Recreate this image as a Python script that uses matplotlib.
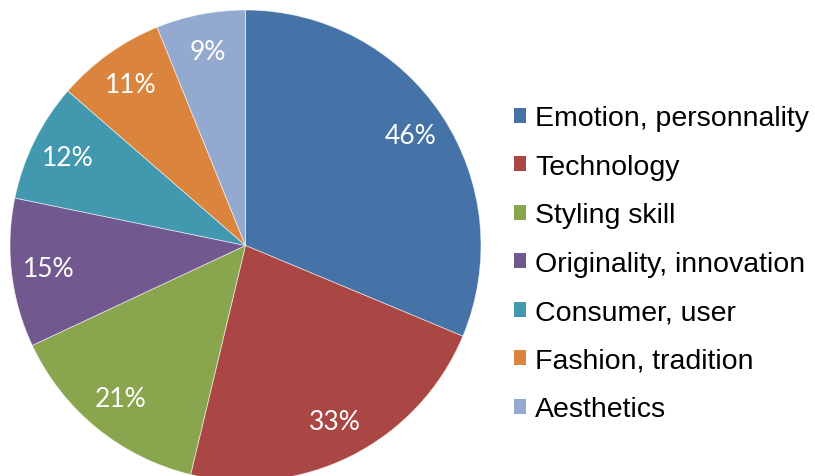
import matplotlib
matplotlib.use("Agg")
import matplotlib.pyplot as plt
from matplotlib.patches import Patch

categories = ["Emotion, personnality", "Technology", "Styling skill",
              "Originality, innovation", "Consumer, user",
              "Fashion, tradition", "Aesthetics"]
values = [46, 33, 21, 15, 12, 11, 9]
labels = [f"{v}%" for v in values]
colors = ["#4572A7", "#AA4643", "#89A54E", "#71588F", "#4198AF", "#DB843D", "#93A9CF"]

W, H = 815, 477
fig = plt.figure(figsize=(W / 100, H / 100), dpi=100)
# pie box in pixels: left 10, right 481, top 11, bottom 482
ax = fig.add_axes([10 / W, (H - 482) / H, 471 / W, 471 / H])
wedges, texts = ax.pie(values, colors=colors, startangle=90, counterclock=False,
                       labels=labels, labeldistance=0.84, radius=1,
                       wedgeprops=dict(edgecolor=(1, 1, 1, 0.6), linewidth=0.6),
                       textprops=dict(color="white", fontsize=19, family=["Lato", "DejaVu Sans"]))
for t in texts:
    t.set_ha("center")
    t.set_va("center")
ax.set_xlim(-1.0, 1.0)
ax.set_ylim(-1.0, 1.0)
ax.set_aspect("equal")
ax.axis("off")

handles = [Patch(facecolor=c, edgecolor="none") for c in colors]
fig.legend(handles, categories, loc="upper left",
           bbox_to_anchor=(514 / W, 1 - 106.5 / H), frameon=False,
           prop=dict(family="Liberation Sans", size=20.5),
           handlelength=0.43, handleheight=0.43, handletextpad=0.32,
           labelspacing=0.79, borderpad=0, borderaxespad=0)

fig.savefig("out.png", dpi=100)
